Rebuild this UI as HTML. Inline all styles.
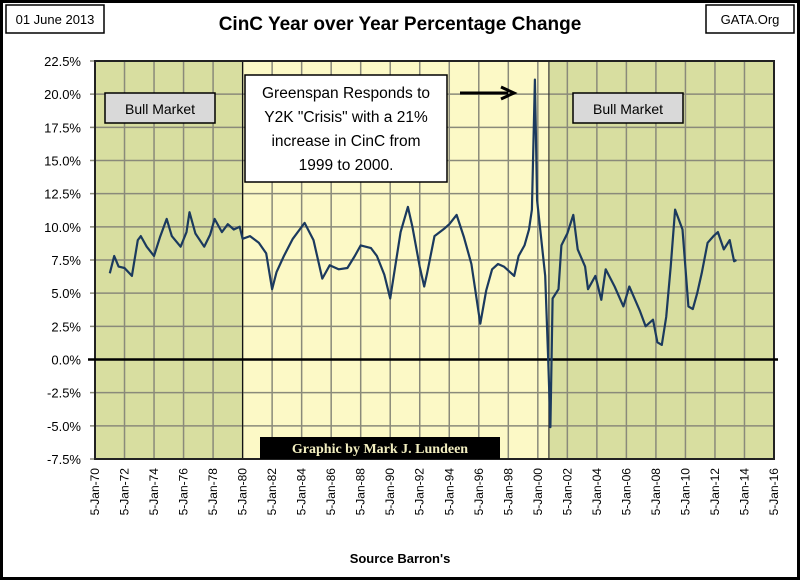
<!DOCTYPE html>
<html><head><meta charset="utf-8"><style>
body{margin:0;background:#fff}
svg text{font-family:"Liberation Sans",sans-serif}
svg text.serif{font-family:"Liberation Serif",serif}
</style></head><body>
<svg id="c" width="800" height="580" xmlns="http://www.w3.org/2000/svg">
<rect x="1.5" y="1.5" width="797" height="577" fill="#fff" stroke="#000" stroke-width="3"/>
<g id="plot"></g>
<g id="lbl"></g>
<rect x="6" y="5" width="98" height="28" fill="#fff" stroke="#000" stroke-width="1.5"/>
<text x="55" y="24" font-size="13" text-anchor="middle">01 June 2013</text>
<rect x="706" y="5" width="88" height="28" fill="#fff" stroke="#000" stroke-width="1.5"/>
<text x="750" y="24" font-size="13" text-anchor="middle">GATA.Org</text>
<text x="400" y="30" font-size="19" font-weight="bold" text-anchor="middle">CinC Year over Year Percentage Change</text>
<text x="400" y="563" font-size="13" font-weight="bold" text-anchor="middle">Source Barron's</text>
</svg>
<script>
const years=[1971.0,1971.3,1971.6,1972.0,1972.5,1972.9,1973.1,1973.5,1974.0,1974.4,1974.86,1975.2,1975.8,1976.2,1976.4,1976.8,1977.4,1977.8,1978.1,1978.6,1979.0,1979.4,1979.8,1980.0,1980.5,1981.1,1981.6,1982.0,1982.3,1982.8,1983.4,1984.2,1984.8,1985.4,1985.9,1986.5,1987.1,1987.6,1988.0,1988.7,1989.1,1989.6,1990.0,1990.7,1991.2,1991.5,1992.0,1992.3,1992.5,1993.0,1993.7,1994.0,1994.5,1995.0,1995.5,1996.1,1996.5,1996.9,1997.3,1997.7,1998.4,1998.7,1999.1,1999.4,1999.6,1999.8,1999.95,2000.5,2000.7,2000.85,2001.0,2001.4,2001.6,2002.0,2002.4,2002.7,2003.2,2003.4,2003.9,2004.3,2004.6,2005.2,2005.8,2006.2,2006.9,2007.3,2007.8,2008.1,2008.4,2008.7,2009.0,2009.3,2009.8,2010.2,2010.5,2010.8,2011.1,2011.5,2011.9,2012.2,2012.6,2013.0,2013.3,2013.45];
const values=[6.5,7.8,7.0,6.9,6.3,9.0,9.3,8.5,7.8,9.2,10.6,9.3,8.5,9.6,11.1,9.5,8.5,9.4,10.6,9.6,10.2,9.8,10.0,9.1,9.3,8.8,8.0,5.3,6.6,7.8,9.1,10.3,9.0,6.1,7.1,6.8,6.9,7.8,8.6,8.4,7.8,6.4,4.6,9.6,11.5,10.0,7.0,5.5,6.5,9.3,9.9,10.2,10.9,9.2,7.2,2.7,5.2,6.8,7.2,7.0,6.3,7.8,8.6,9.8,11.3,21.1,12.0,6.3,0.0,-5.1,4.6,5.3,8.6,9.5,10.9,8.3,7.0,5.3,6.3,4.5,6.8,5.5,4.0,5.5,3.7,2.5,3.0,1.3,1.1,3.2,7.0,11.3,9.8,4.0,3.8,5.0,6.5,8.8,9.3,9.6,8.3,9.0,7.4,7.5];
const yTicks=[22.5,20,17.5,15,12.5,10,7.5,5,2.5,0,-2.5,-5,-7.5];
const xTickYears=[1970,1972,1974,1976,1978,1980,1982,1984,1986,1988,1990,1992,1994,1996,1998,2000,2002,2004,2006,2008,2010,2012,2014,2016];
const X0=95,X1=774,Y0=61,Y1=459;
const xs=y=>X0+(y-1970)/(2016-1970)*(X1-X0);
const ys=v=>Y0+(22.5-v)/30*(Y1-Y0);
const NS='http://www.w3.org/2000/svg';
const plot=document.getElementById('plot'),lbl=document.getElementById('lbl');
function mk(tag,a,p){const e=document.createElementNS(NS,tag);for(const k in a)e.setAttribute(k,a[k]);p.appendChild(e);return e;}
let e;
e=mk('rect',{x:X0,y:Y0,width:xs(1980)-X0,height:Y1-Y0,fill:'#d8dea0'},plot);


e=mk('rect',{x:xs(1980),y:Y0,width:xs(2000.75)-xs(1980),height:Y1-Y0,fill:'#fcf9c6'},plot);


e=mk('rect',{x:xs(2000.75),y:Y0,width:X1-xs(2000.75),height:Y1-Y0,fill:'#d8dea0'},plot);


yTicks.forEach(v=>{
 e=mk('line',{x1:X0-5,x2:X1,y1:ys(v),y2:ys(v),stroke:'#8a8a7a','stroke-width':1.5},plot);
 
 
 e=mk('text',{x:X0-14,y:ys(v)+5,'font-size':13,'text-anchor':'end'},lbl);
 e.textContent=v.toFixed(1)+'%';
 
 
});
xTickYears.forEach(y=>{
 const x=xs(y);
 e=mk('line',{x1:x,x2:x,y1:Y0,y2:Y1,stroke:'#8a8a7a','stroke-width':1.5},plot);
 
 
 e=mk('text',{x:0,y:0,'font-size':12,'text-anchor':'end',transform:`translate(${x+4},468) rotate(-90)`},lbl);
 e.textContent='5-Jan-'+String(y).slice(2);
 
 
});
[[1980,'#111'],[2000.75,'#333']].forEach(([y,c])=>{
 e=mk('line',{x1:xs(y),x2:xs(y),y1:Y0,y2:Y1,stroke:c,'stroke-width':1.2},plot);
 
 
});
e=mk('rect',{x:X0,y:Y0,width:X1-X0,height:Y1-Y0,fill:'none',stroke:'#222','stroke-width':2},plot);


e=mk('line',{x1:88,x2:778,y1:ys(0),y2:ys(0),stroke:'#000','stroke-width':2.5},plot);


e=mk('path',{d:years.map((y,i)=>(i?'L':'M')+xs(y).toFixed(1)+','+ys(values[i]).toFixed(1)).join(''),fill:'none',stroke:'#1b3a5e','stroke-width':2.2,'stroke-linejoin':'round'},plot);


function box(x,y,w,h,fill,name){e=mk('rect',{x,y,width:w,height:h,fill,stroke:'#000','stroke-width':1.5},plot);}
function txt(x,y,s,t,name,extra){e=mk('text',Object.assign({x,y,'font-size':s,'text-anchor':'middle'},extra||{}),plot);e.textContent=t;}
box(105,93,110,30,'#d9d9d9','bull-market-box-1');
txt(160,114,14,'Bull Market','bull-market-label-1');
box(573,93,110,30,'#d9d9d9','bull-market-box-2');
txt(628,114,14,'Bull Market','bull-market-label-2');
box(245,75,202,107,'#fff','annotation-box');
txt(346,98,15.5,'Greenspan Responds to','annotation-line-1');
txt(346,122,15.5,'Y2K "Crisis" with a 21%','annotation-line-2');
txt(346,146,15.5,'increase in CinC from','annotation-line-3');
txt(346,170,15.5,'1999 to 2000.','annotation-line-4');
e=mk('line',{x1:460,x2:508,y1:93,y2:93,stroke:'#000','stroke-width':3},plot);


e=mk('path',{d:'M501,87 L514,93 L501,99',fill:'none',stroke:'#000','stroke-width':3},plot);


e=mk('rect',{x:260,y:437,width:240,height:22,fill:'#000'},plot);


txt(380,453,14,'Graphic by Mark J. Lundeen','credit-label',{fill:'#f3efc0','font-weight':'bold','class':'serif'});
</script>
</body></html>
